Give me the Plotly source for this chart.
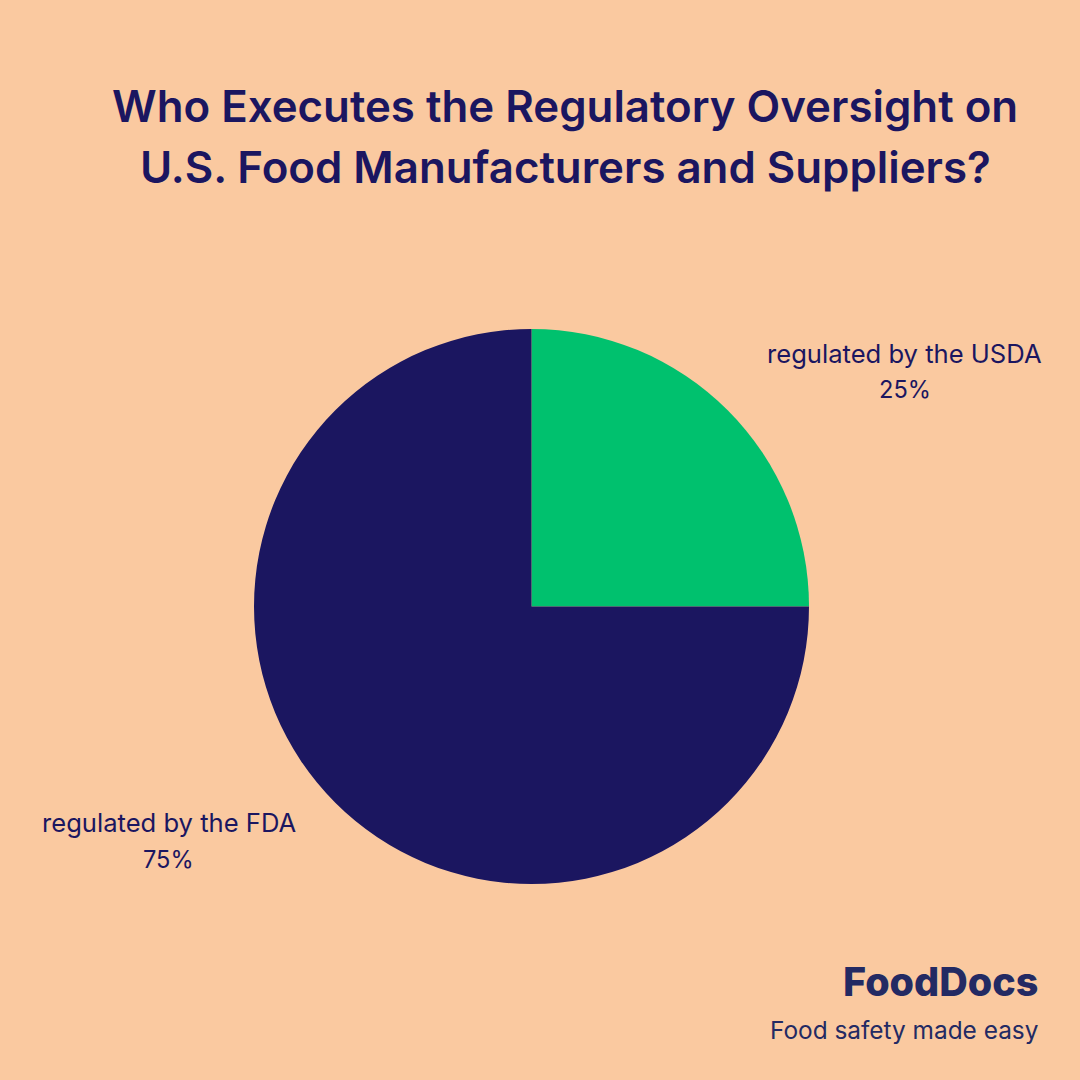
import plotly.graph_objects as go

labels = ["regulated by the USDA", "regulated by the FDA"]
values = [25, 75]
colors = ["#00c16e", "#1b1660"]
title_lines = ["Who Executes the Regulatory Oversight on", "U.S. Food Manufacturers and Suppliers?"]
brand = "FoodDocs"
tagline = "Food safety made easy"

BG = "#fac9a0"
NAVY = "#1b1660"
LOGO = "#232a63"
W = 1080

fig = go.Figure(go.Pie(
    labels=labels,
    values=values,
    sort=False,
    direction="clockwise",
    rotation=0,
    marker={"colors": colors, "line": {"width": 0}},
    textinfo="none",
    hoverinfo="label+percent",
    showlegend=False,
    domain={"x": [254 / W, 809 / W], "y": [1 - 884 / W, 1 - 329 / W]},
))

annos = [
    (565, 106.5, title_lines[0], 43.8, "Inter", 600, NAVY),
    (565, 167.5, title_lines[1], 43.8, "Inter", 600, NAVY),
    (905, 353, labels[0], 25.6, "Inter", 400, NAVY),
    (905, 389.5, "25%", 23.6, "Inter", 400, NAVY),
    (168.5, 822, labels[1], 25.6, "Inter", 400, NAVY),
    (168.5, 859.5, "75%", 23.6, "Inter", 400, NAVY),
    (940, 982, brand, 39.5, "Inter", 800, LOGO),
    (904, 1030, tagline, 24.4, "Inter", 400, LOGO),
]
for x, y, text, size, family, weight, color in annos:
    fig.add_annotation(
        x=x / W, y=1 - y / W, xref="paper", yref="paper",
        text=text, showarrow=False, xanchor="center", yanchor="middle",
        font={"size": size, "family": family, "color": color, "weight": weight},
    )

fig.update_layout(
    width=W, height=W,
    margin={"l": 0, "r": 0, "t": 0, "b": 0},
    paper_bgcolor=BG,
    plot_bgcolor=BG,
)

# drop the browser's default page margin so the figure fills the window
fig.write_html(
    "out.html",
    config={"displayModeBar": False},
    post_script="document.body.style.margin='0';document.body.style.overflow='hidden';",
)
